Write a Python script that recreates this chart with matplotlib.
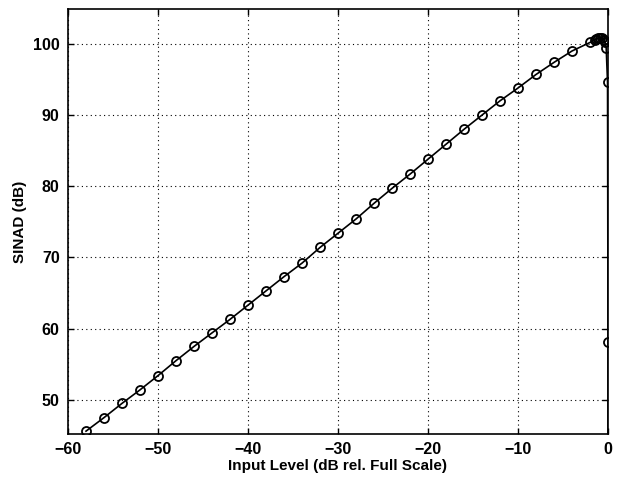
import matplotlib
matplotlib.use("Agg")
import matplotlib.pyplot as plt

plt.rcParams['font.family'] = ['Liberation Sans', 'DejaVu Sans']

input_level = [-58, -56, -54, -52, -50, -48, -46, -44, -42, -40, -38, -36, -34, -32,
               -30, -28, -26, -24, -22, -20, -18, -16, -14, -12, -10, -8, -6, -4, -2,
               -1.5, -1.3, -1.1, -0.9, -0.7, -0.5, -0.35, -0.2, -0.05, 0.0, 0.0]
sinad = [45.6, 47.5, 49.5, 51.4, 53.4, 55.5, 57.5, 59.4, 61.3, 63.3, 65.3, 67.3, 69.2, 71.4,
         73.4, 75.4, 77.6, 79.7, 81.7, 83.8, 85.9, 88.0, 90.0, 92.0, 93.8, 95.7, 97.4, 99.0, 100.2,
         100.5, 100.7, 100.8, 100.85, 100.8, 100.6, 100.3, 99.4, 94.6, 58.1, 20.0]

xticks = [-60, -50, -40, -30, -20, -10, 0]
yticks = [50, 60, 70, 80, 90, 100]

fig = plt.figure(figsize=(6.18, 4.78), dpi=100)
ax = fig.add_axes([68/618, 44/478, 540/618, 425/478])

ax.plot(input_level, sinad, color='black', lw=1.2, marker='o', markersize=6.5,
        markerfacecolor='none', markeredgecolor='black', markeredgewidth=1.3)

ax.set_xlim(-60, 0)
ax.set_ylim(45.2, 104.9)
ax.set_xticks(xticks)
ax.set_yticks(yticks)
ax.set_xticklabels(['\u221260', '\u221250', '\u221240', '\u221230', '\u221220', '\u221210', '0'])
ax.grid(True, color='black', linestyle=(0, (1, 3)), linewidth=0.8)
ax.tick_params(direction='in', top=True, right=True, labelsize=11.5, length=4, width=1, pad=6)
for lab in ax.get_xticklabels() + ax.get_yticklabels():
    lab.set_fontweight('bold')
for s in ax.spines.values():
    s.set_linewidth(1.2)

ax.set_xlabel('Input Level (dB rel. Full Scale)', fontsize=11, fontweight='bold', labelpad=1)
ax.set_ylabel('SINAD (dB)', fontsize=11, fontweight='bold', labelpad=4)

fig.savefig('out.png', dpi=100)
